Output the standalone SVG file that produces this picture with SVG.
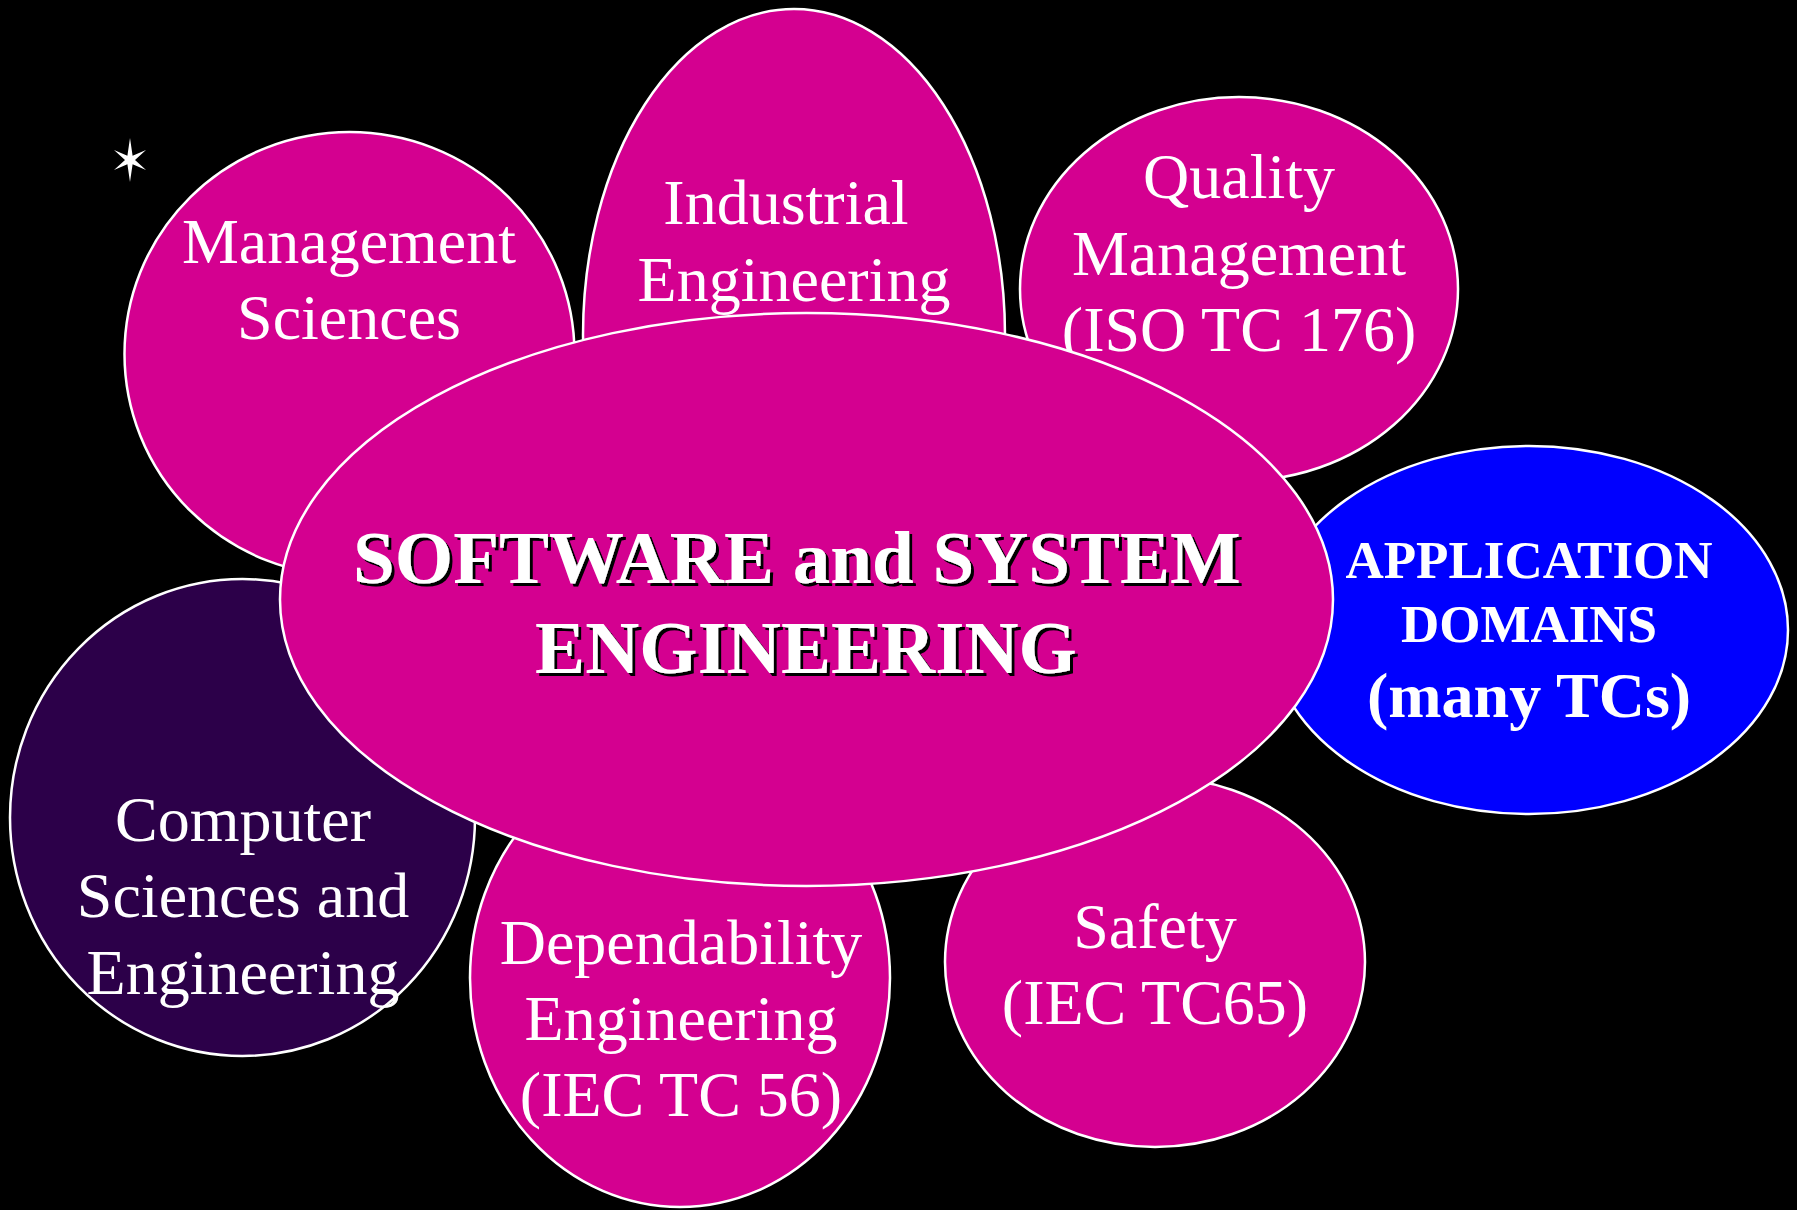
<svg xmlns="http://www.w3.org/2000/svg" width="1797" height="1210" viewBox="0 0 1797 1210">
<defs>
<style>
.bub{fill:#D40090;stroke:#FFFFFF;stroke-width:2.5}
.blue{fill:#0000FF;stroke:#FFFFFF;stroke-width:2.5}
.dark{fill:#2C0049;stroke:#FFFFFF;stroke-width:2.5}
.t{font-family:"Liberation Serif","Times New Roman",serif;font-size:64px;fill:#FFFFFF;text-anchor:middle}
.b{font-family:"Liberation Serif","Times New Roman",serif;font-weight:bold;fill:#FFFFFF;text-anchor:middle}
</style>
<filter id="sh" x="-5%" y="-20%" width="110%" height="140%">
<feDropShadow dx="3" dy="3" stdDeviation="0" flood-color="#000000" flood-opacity="1"/>
</filter>
</defs>
<rect x="0" y="0" width="1797" height="1210" fill="#000000"/>
<polygon transform="translate(130,160)" fill="#FFFFFF" points="0,-22 2.6,-4.3 16,-10 5,0 16,10 2.6,4.3 0,22 -2.6,4.3 -16,10 -5,0 -16,-10 -2.6,-4.3"/>
<g id="connectors"></g>
<g id="management">
<ellipse class="bub" cx="349.5" cy="354" rx="225" ry="222"/>
<text class="t" x="349" y="263">Management</text>
<text class="t" x="349" y="339">Sciences</text>
</g>
<g id="industrial">
<ellipse class="bub" cx="794" cy="335" rx="211" ry="326"/>
<text class="t" x="786" y="224">Industrial</text>
<text class="t" x="794" y="301">Engineering</text>
</g>
<g id="quality">
<ellipse class="bub" cx="1239" cy="289" rx="219" ry="192"/>
<text class="t" x="1239" y="198">Quality</text>
<text class="t" x="1239" y="275">Management</text>
<text class="t" x="1239" y="351">(ISO TC 176)</text>
</g>
<g id="application">
<ellipse class="blue" cx="1529" cy="630" rx="259" ry="184"/>
<text class="b" x="1529" y="578" font-size="53">APPLICATION</text>
<text class="b" x="1529" y="642" font-size="53">DOMAINS</text>
<text class="b" x="1529" y="717" font-size="64">(many TCs)</text>
</g>
<g id="safety">
<ellipse class="bub" cx="1155" cy="962" rx="210" ry="185"/>
<text class="t" x="1155" y="948">Safety</text>
<text class="t" x="1155" y="1024">(IEC TC65)</text>
</g>
<g id="dependability">
<ellipse class="bub" cx="680" cy="978" rx="210" ry="229"/>
<text class="t" x="681" y="964">Dependability</text>
<text class="t" x="681" y="1040">Engineering</text>
<text class="t" x="681" y="1116">(IEC TC 56)</text>
</g>
<g id="computer">
<ellipse class="dark" cx="242.5" cy="817.5" rx="232.5" ry="238.5"/>
<text class="t" x="243" y="841">Computer</text>
<text class="t" x="243" y="917">Sciences and</text>
<text class="t" x="243" y="994">Engineering</text>
</g>
<g id="central">
<ellipse class="bub" cx="806.5" cy="599.5" rx="526.5" ry="286.5"/>
<text class="b" x="797" y="583" font-size="75" filter="url(#sh)">SOFTWARE and SYSTEM</text>
<text class="b" x="806" y="673" font-size="75" filter="url(#sh)">ENGINEERING</text>
</g>
</svg>
